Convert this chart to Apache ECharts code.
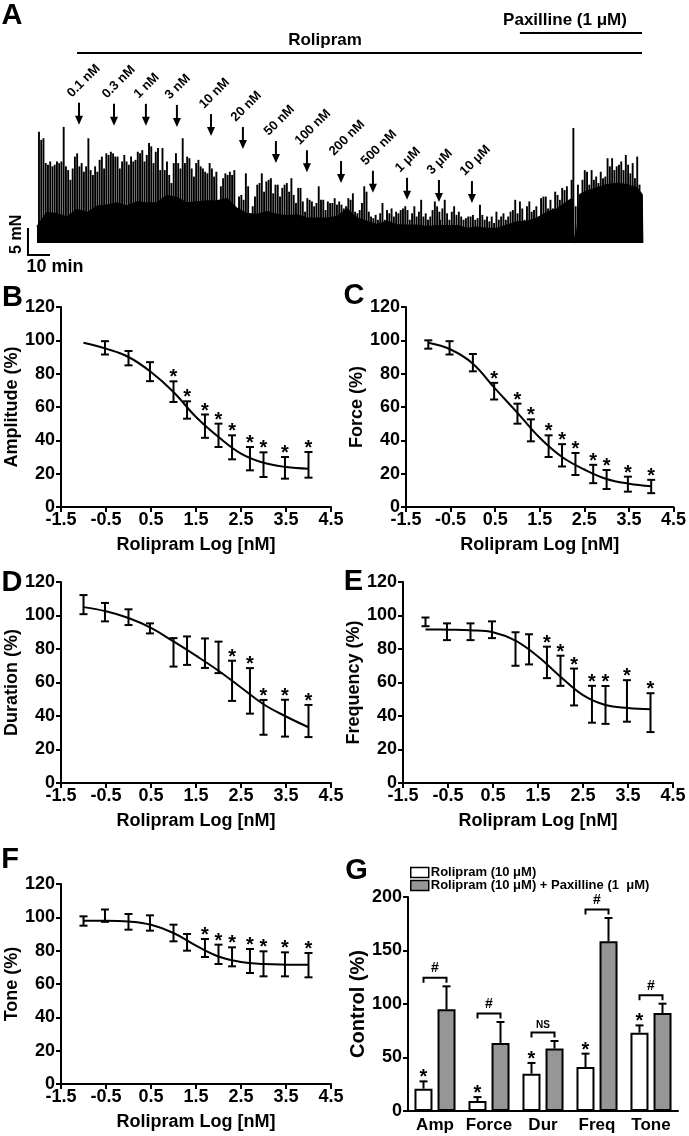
<!DOCTYPE html>
<html><head><meta charset="utf-8">
<script src="https://cdn.jsdelivr.net/npm/echarts@6/dist/echarts.min.js"></script>
<style>html,body{margin:0;padding:0;background:#fff}#c{width:689px;height:1136px}</style>
</head><body><div id="c"></div>
<script>
const FONT = '"Liberation Sans", Arial, Helvetica, sans-serif';

// ---------- Panel A: contraction trace (time in min, force in mN) ----------
const spikes1 = [20.6,19.1,19.4,14.8,14.5,15.1,14.2,14.5,15.1,14.8,
  15.1,21.5,14.2,13.5,11.7,13.8,16.0,16.6,14.2,14.8,
  13.2,14.2,19.4,13.5,12.6,14.2,13.2,15.4,16.0,13.8,
  16.6,16.3,16.9,16.6,16.0,16.0,13.8,15.1,16.3,15.1,
  14.5,16.0,15.1,15.4,16.9,16.6,17.2,15.1,16.3,18.5,
  17.9,14.8,16.9,17.6,13.5,17.6,13.5,15.1,12.6,11.1,
  14.8,16.6,14.8,13.8,19.4,14.8,16.0,15.7,13.8,12.3,
  14.8,15.4,14.2,13.8,13.2,12.9,14.8,13.8,12.3,13.2,
  8.0,10.5,12.0,12.9,12.6,13.2,12.6,13.5];
const span1 = [0.9, 89.7];
const spikes2 = [4.9,8.6,8.9,8.0,12.9,10.5,5.5,6.8,8.6,10.8,
  11.1,12.9,9.5,11.4,11.7,12.0,9.2,10.8,10.8,8.6,
  10.2,10.8,11.1,9.5,12.0,8.9,7.4,10.2,10.2,7.7,
  5.8,8.3,8.0,7.7,6.8,7.4,10.5,8.0,8.0,6.1,
  7.7,7.4,7.4,8.3,7.1,7.7,7.1,6.4,6.8,8.3,
  8.0,9.2,5.8,5.5,6.1,7.4,10.5,9.5,5.8,4.9,
  4.6,5.2,4.3,5.5,7.4,4.3,6.1,5.5,6.4,4.9,
  5.8,5.5,6.1,6.4,6.8,6.1,4.3,5.5,6.8,4.9,
  5.8,8.0,4.9,5.5,4.3,4.9,6.1,7.7,6.8,5.8];
const span2 = [90.8, 182.9];
const spikes3 = [4.3,6.4,8.0,5.5,4.3,5.8,6.8,5.2,5.8,4.9,
  4.3,4.6,4.9,4.9,5.2,4.3,4.6,7.1,5.2,4.3,
  4.9,4.0,4.9,3.7,5.8,4.3,4.9,5.5,4.3,4.9,
  5.8,6.1,8.0,5.5,7.7,6.4,4.3,6.8,7.7,5.8,
  6.1,6.8,4.9,8.3,8.6,8.6,6.4,8.0,6.4,9.5,
  8.9,8.0,10.2,9.8,10.5,8.0,11.7];
const span3 = [183.2, 243.0];
const spikes4 = [21.3,6.8,10.8,8.6,11.7,13.5,13.2,10.8,13.5,11.7,12.3,
  11.1,13.2,12.0,12.3,15.7,14.2,15.7,13.5,14.2,14.5,
  15.1,13.5,16.3,14.5,12.9,14.8,12.0,16.0,10.8,8.9];
const span4 = [243.8, 274.9];
const bandT = [0,4.5,9.1,13.6,18.2,22.7,27.3,31.8,36.4,40.9,45.5,50,54.5,59.1,63.6,68.2,72.7,77.3,81.8,86.4,
  90.9,95.5,100,104.5,109.1,113.6,118.2,122.7,127.3,131.8,136.4,140.9,145.5,150,154.5,159.1,163.6,168.2,172.7,177.3,
  181.8,186.4,190.9,195.5,200,204.5,209.1,213.6,218.2,222.7,227.3,231.8,236.4,240.9,243.2,244.1,245.5,246.8,250,254.5,
  259.1,263.6,268.2,272.7,275,275.3];
const bandV = [3.0,5.6,5.4,4.8,6.2,5.6,6.8,7.0,7.4,6.8,7.6,7.4,7.4,8.8,8.4,7.4,7.6,7.8,7.8,8.2,
  6.4,5.4,5.3,5.8,5.3,5.0,5.2,4.6,4.6,4.6,4.9,6.3,4.6,4.0,3.4,4.0,3.4,3.3,3.3,3.0,
  3.2,3.2,3.2,2.7,2.9,2.7,2.7,3.3,3.9,4.0,4.6,5.7,6.3,7.6,8.2,0,2.4,9.0,9.6,10.2,
  10.8,11.0,10.8,10.2,9.0,0];
const doseLabels = ['0.1 nM','0.3 nM','1 nM','3 nM','10 nM','20 nM','50 nM','100 nM','200 nM','500 nM','1 μM','3 μM','10 μM'];
const doseTimes = [19.1,35.0,49.5,63.6,79.1,93.6,108.6,122.7,138.2,152.7,168.2,182.7,197.7];
const doseTips = [21.9,21.7,21.7,21.5,19.8,17.4,14.8,13.1,11.1,9.3,8.0,7.6,7.4];
const drugNames = ['Rolipram','Paxilline (1 μM)'];
const drugStart = [18.2, 219.5];
const drugEnd = [275, 275];
const drugLevel = [35.2, 38.9];
const drugLabelTime = [130.9, 240];
const scaleOrigin = [-4.1, -2.2];
const scaleMin = 10, scaleMN = 5;

// ---------- Panels B-F: concentration-response ----------
const doseLog = [-1,-0.523,0,0.477,1,1.301,1.699,2,2.301,2.699,3,3.477,4];
const fitX = [-1,-0.5,0,0.5,1,1.5,2,2.5,3,3.5,4];
const xTicks = [-1.5,-0.5,0.5,1.5,2.5,3.5,4.5];
const ampMean = [98.5,95.5,89.3,81.2,69.2,58.2,48.5,43,35.8,29,25.4,23.5,25.3];
const ampErr  = [0,4,4.3,5.7,6.2,5.2,7,7,7.2,7,7.4,6.5,7.7];
const ampFit  = [98.6,95,90,81,69,54,42,32,26.5,24,23];
const ampSig  = [0,0,0,0,1,1,1,1,1,1,1,1,1];
const forceMean = [97.5,95.5,86.6,69.5,56,46,36.5,31,25.8,19.8,16.5,13.7,12.3];
const forceErr  = [2.5,4,5.2,5,6,6.6,6.5,6.7,6.6,5.5,5.7,4.5,4];
const forceFit  = [98.5,94.5,86,71,56.5,41.5,30,22.5,16.8,14,12.5];
const forceSig  = [0,0,0,1,1,1,1,1,1,1,1,1,1];
const durMean = [106.5,102,99,92.3,78,79,77.5,75,61,55,39.2,38.7,37];
const durErr  = [5.7,5.5,4.7,3,8.5,8.5,8.8,9.4,12,13.6,10.4,11,9.6];
const durFit  = [105,102.5,98.5,92.6,84.5,76,67,57,47,39.7,33.3];
const durSig  = [0,0,0,0,0,0,0,0,1,1,1,1,1];
const freqMean = [96.2,90.3,90.3,91.5,80,79.8,72,67,57.3,47,46.6,49,42];
const freqErr  = [2.6,5,5,5,10,9,9.4,9,11,11,11.3,12.4,11.6];
const freqFit  = [91.7,91.5,91.2,90,85,75.5,63.5,52.5,46.6,44.8,44];
const freqSig  = [0,0,0,0,0,0,1,1,1,1,1,1,1];
const toneMean = [97.8,101,97.3,96.6,90.6,85,81.6,77.8,76.3,73.8,72.1,71.8,71.3];
const toneErr  = [2.8,3.7,4.7,4.6,5,5,5.4,5.8,5.7,7.2,7.5,7.2,7.3];
const toneFit  = [98,98,97.5,95.5,90.6,83,76.5,73.2,72,71.6,71.5];
const toneSig  = [0,0,0,0,0,0,1,1,1,1,1,1,1];

// ---------- Panel G ----------
const gCats = ['Amp','Force','Dur','Freq','Tone'];
const roliMean = [20.9,9.3,34.9,41.1,73.2];
const roliErr  = [6.8,3.7,10,12.5,6.8];
const roliSig  = [1,1,1,1,1];
const paxMean  = [95,63.6,58.3,158.6,91.6];
const paxErr   = [21.5,19.6,7.1,21.8,8.7];
const compLabel = ['#','#','NS','#','#'];
const nameRoli = 'Rolipram (10 μM)';
const namePax = 'Rolipram (10 μM) + Paxilline (1  μM)';

// ================= build =================
const chart = echarts.init(document.getElementById('c'), null, {renderer:'canvas'});
const BLACK = '#000';
const lineSt = {stroke:BLACK, lineWidth:2};
const txt = (size) => 'bold ' + size + 'px ' + FONT;

const grids = [
  {left:26, top:0, width:616, height:270},
  {left:61, top:307, width:270, height:200},
  {left:406, top:307, width:269, height:200},
  {left:61, top:582, width:270, height:201},
  {left:403, top:582, width:270, height:201},
  {left:61, top:884, width:270, height:200},
  {left:408, top:897, width:270, height:214}
];
const xAxes = [], yAxes = [], series = [];

// Panel A axes
xAxes.push({gridIndex:0, type:'value', min:-5, max:275, show:false});
yAxes.push({gridIndex:0, type:'value', min:-5, max:45, show:false});

function segData(vals, span){
  const n = vals.length;
  return vals.map((v,i)=>[span[0] + (span[1]-span[0])*i/(n-1), v]);
}
const spikeData = [].concat(segData(spikes1,span1), segData(spikes2,span2), segData(spikes3,span3), segData(spikes4,span4));

series.push({type:'line', xAxisIndex:0, yAxisIndex:0, data: bandT.map((t,i)=>[t,bandV[i]]),
  symbol:'none', lineStyle:{color:BLACK, width:1.5}, areaStyle:{color:BLACK, opacity:1}, silent:true, z:2});
series.push({type:'bar', xAxisIndex:0, yAxisIndex:0, data: spikeData, barWidth:1.9,
  itemStyle:{color:BLACK}, silent:true, z:3});

// dose arrows
series.push({type:'custom', xAxisIndex:0, yAxisIndex:0, clip:false, silent:true, z:5,
  data: doseTimes.map((t,i)=>[t, doseTips[i]]),
  renderItem: function(params, api){
    const p = api.coord([api.value(0), api.value(1)]);
    const len = 22;
    return {type:'group', children:[
      {type:'line', shape:{x1:p[0], y1:p[1]-len, x2:p[0], y2:p[1]-7}, style:lineSt},
      {type:'polygon', shape:{points:[[p[0]-4,p[1]-9],[p[0]+4,p[1]-9],[p[0],p[1]]]}, style:{fill:BLACK}},
      {type:'text', x:p[0]-5, y:p[1]-len-3, rotation:Math.PI/4,
        style:{text:doseLabels[params.dataIndex], font:txt(13), fill:BLACK, align:'left', verticalAlign:'bottom'}}
    ]};
  }});
// drug application bars
series.push({type:'custom', xAxisIndex:0, yAxisIndex:0, clip:false, silent:true, z:5,
  data: drugStart.map((t,i)=>[t, drugEnd[i], drugLevel[i], drugLabelTime[i]]),
  renderItem: function(params, api){
    const a = api.coord([api.value(0), api.value(2)]);
    const b = api.coord([api.value(1), api.value(2)]);
    const c = api.coord([api.value(3), api.value(2)]);
    return {type:'group', children:[
      {type:'line', shape:{x1:a[0], y1:a[1], x2:b[0], y2:b[1]}, style:lineSt},
      {type:'text', x:c[0], y:a[1]-12.5, style:{text:drugNames[params.dataIndex], font:txt(17), fill:BLACK, align:'center', verticalAlign:'middle'}}
    ]};
  }});
// scale bar
series.push({type:'custom', xAxisIndex:0, yAxisIndex:0, clip:false, silent:true, z:5,
  data: [[scaleOrigin[0], scaleOrigin[1], scaleMin, scaleMN]],
  renderItem: function(params, api){
    const o = api.coord([api.value(0), api.value(1)]);
    const h = api.coord([api.value(0)+api.value(2), api.value(1)]);
    const v = api.coord([api.value(0), api.value(1)+api.value(3)]);
    return {type:'group', children:[
      {type:'polyline', shape:{points:[[v[0],v[1]],[o[0],o[1]],[h[0],h[1]]]}, style:{stroke:BLACK, lineWidth:2, fill:null}},
      {type:'text', x:o[0]-11, y:(o[1]+v[1])/2-7, rotation:Math.PI/2, style:{text:scaleMN+' mN', font:txt(16), fill:BLACK, align:'center', verticalAlign:'middle'}},
      {type:'text', x:(o[0]+h[0])/2+16, y:o[1]+12, style:{text:scaleMin+' min', font:txt(18), fill:BLACK, align:'center', verticalAlign:'middle'}}
    ]};
  }});

// Panels B-F
function errorRender(params, api){
  const x=api.value(0), m=api.value(1), e=api.value(2), s=api.value(3);
  const hi=api.coord([x, m+e]), lo=api.coord([x, m-e]);
  const ch=[];
  if (e>0){
    ch.push({type:'line', shape:{x1:hi[0],y1:hi[1],x2:lo[0],y2:lo[1]}, style:lineSt});
    ch.push({type:'line', shape:{x1:hi[0]-4,y1:hi[1],x2:hi[0]+4,y2:hi[1]}, style:lineSt});
    ch.push({type:'line', shape:{x1:lo[0]-4,y1:lo[1],x2:lo[0]+4,y2:lo[1]}, style:lineSt});
  }
  if (s) ch.push({type:'text', x:hi[0], y:hi[1]-3.5, style:{text:'*', font:txt(20), fill:BLACK, align:'center', verticalAlign:'middle'}});
  return {type:'group', children:ch};
}
const axisTxt = {color:BLACK, fontWeight:'bold', fontSize:18, fontFamily:FONT};
function linePanel(k, fit, mean, err, sig, yName){
  xAxes.push({gridIndex:k, type:'value', min:-1.5, max:4.5,
    axisLine:{show:true, onZero:false, lineStyle:{color:BLACK, width:2}},
    axisTick:{show:true, length:5, customValues:xTicks, lineStyle:{color:BLACK, width:2}},
    axisLabel:Object.assign({customValues:xTicks, margin:4}, axisTxt),
    splitLine:{show:false},
    name:'Rolipram Log [nM]', nameLocation:'middle', nameGap:29, nameTextStyle:axisTxt});
  yAxes.push({gridIndex:k, type:'value', min:0, max:120, interval:20,
    axisLine:{show:true, onZero:false, lineStyle:{color:BLACK, width:2}},
    axisTick:{show:true, length:5, lineStyle:{color:BLACK, width:2}},
    axisLabel:Object.assign({margin:6}, axisTxt),
    splitLine:{show:false},
    name:yName, nameLocation:'middle', nameRotate:90, nameGap:39, nameTextStyle:axisTxt});
  series.push({type:'line', xAxisIndex:k, yAxisIndex:k, data:fitX.map((x,i)=>[x,fit[i]]),
    smooth:0.4, symbol:'none', lineStyle:{color:BLACK, width:2}, silent:true, z:2});
  series.push({type:'custom', xAxisIndex:k, yAxisIndex:k, clip:false, silent:true, z:3,
    data:doseLog.map((x,i)=>[x, mean[i], err[i], sig[i]]), renderItem:errorRender});
}
linePanel(1, ampFit, ampMean, ampErr, ampSig, 'Amplitude (%)');
linePanel(2, forceFit, forceMean, forceErr, forceSig, 'Force (%)');
linePanel(3, durFit, durMean, durErr, durSig, 'Duration (%)');
linePanel(4, freqFit, freqMean, freqErr, freqSig, 'Frequency (%)');
linePanel(5, toneFit, toneMean, toneErr, toneSig, 'Tone (%)');

// Panel G
const BAR_W = 18, PAIR_OFF = 11.5;
xAxes.push({gridIndex:6, type:'category', data:gCats,
  axisLine:{show:true, onZero:false, lineStyle:{color:BLACK, width:2}}, axisTick:{show:false},
  axisLabel:Object.assign({}, axisTxt, {fontSize:17, margin:6, interval:0})});
yAxes.push({gridIndex:6, type:'value', min:0, max:200, interval:50,
  axisLine:{show:true, onZero:false, lineStyle:{color:BLACK, width:2}},
  axisTick:{show:true, length:5, lineStyle:{color:BLACK, width:2}},
  axisLabel:Object.assign({margin:6}, axisTxt), splitLine:{show:false},
  name:'Control (%)', nameLocation:'middle', nameRotate:90, nameGap:40, nameTextStyle:Object.assign({}, axisTxt, {fontSize:20})});
series.push({type:'bar', name:nameRoli, xAxisIndex:6, yAxisIndex:6, data:roliMean, barWidth:BAR_W, barGap:'28%',
  itemStyle:{color:'#ffffff', borderColor:BLACK, borderWidth:2}, silent:true, z:2});
series.push({type:'bar', name:namePax, xAxisIndex:6, yAxisIndex:6, data:paxMean, barWidth:BAR_W, barGap:'28%',
  itemStyle:{color:'#969696', borderColor:BLACK, borderWidth:2}, silent:true, z:2});
function barErr(off, sigArr){
  return function(params, api){
    const i = api.value(0), m = api.value(1), e = api.value(2);
    const b = api.coord([i, m]), t = api.coord([i, m+e]);
    const x = b[0] + off;
    const ch = [
      {type:'line', shape:{x1:x, y1:b[1], x2:x, y2:t[1]}, style:lineSt},
      {type:'line', shape:{x1:x-4, y1:t[1], x2:x+4, y2:t[1]}, style:lineSt}
    ];
    if (sigArr && sigArr[params.dataIndex]) ch.push({type:'text', x:x, y:t[1]-3.5, style:{text:'*', font:txt(20), fill:BLACK, align:'center', verticalAlign:'middle'}});
    return {type:'group', children:ch};
  };
}
series.push({type:'custom', xAxisIndex:6, yAxisIndex:6, clip:false, silent:true, z:4,
  data: roliMean.map((m,i)=>[i, m, roliErr[i]]), renderItem: barErr(-PAIR_OFF, roliSig)});
series.push({type:'custom', xAxisIndex:6, yAxisIndex:6, clip:false, silent:true, z:4,
  data: paxMean.map((m,i)=>[i, m, paxErr[i]]), renderItem: barErr(PAIR_OFF, null)});
// comparison brackets
series.push({type:'custom', xAxisIndex:6, yAxisIndex:6, clip:false, silent:true, z:4,
  data: paxMean.map((m,i)=>[i, Math.max(m+paxErr[i], roliMean[i]+roliErr[i])]),
  renderItem: function(params, api){
    const c = api.coord([api.value(0), api.value(1)]);
    const y = c[1] - 8.5;
    const x1 = c[0]-PAIR_OFF, x2 = c[0]+PAIR_OFF;
    const lab = compLabel[params.dataIndex];
    const isNS = lab === 'NS';
    return {type:'group', children:[
      {type:'polyline', shape:{points:[[x1,y+5],[x1,y],[x2,y],[x2,y+5]]}, style:{stroke:BLACK, lineWidth:2, fill:null}},
      {type:'text', x:(x1+x2)/2, y: y - (isNS ? 7.5 : 9.5), style:{text:lab, font:txt(isNS?10:14), fill:BLACK, align:'center', verticalAlign:'middle'}}
    ]};
  }});

const letters = [['A',12,16],['B',12.5,298],['C',354,296],['D',12,583],['E',353.5,582],['F',10,860],['G',356.5,871]];

chart.setOption({
  animation:false,
  backgroundColor:'#ffffff',
  grid: grids,
  xAxis: xAxes,
  yAxis: yAxes,
  series: series,
  legend: {data:[nameRoli, namePax], orient:'vertical', left:410, top:866, padding:0, itemWidth:18, itemHeight:10, itemGap:0,
    icon:'rect', selectedMode:false,
    itemStyle:{borderWidth:1.5, borderColor:BLACK},
    textStyle:{fontSize:13, lineHeight:13, fontWeight:'bold', fontFamily:FONT, color:BLACK, padding:[0,0,0,-3]}},
  graphic: letters.map(l=>({type:'text', x:l[1], y:l[2], silent:true,
    style:{text:l[0], font:'bold 29px ' + FONT, fill:BLACK, align:'center', verticalAlign:'middle'}}))
});
</script>
</body></html>
